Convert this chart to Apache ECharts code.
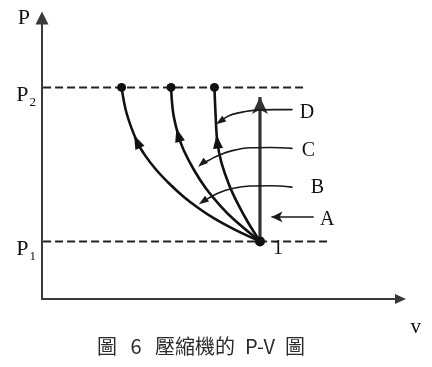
<!DOCTYPE html>
<html><head><meta charset="utf-8">
<script src="https://cdn.jsdelivr.net/npm/echarts@6/dist/echarts.min.js"></script>
<style>html,body{margin:0;padding:0;background:#fff}#c{width:432px;height:367px}</style>
</head><body><div id="c"></div>
<script>
// ---- data (v and p in arbitrary chart units) ----
const P1 = 2.05;
const P2 = 7.53;
const yTickValues = [P1, P2];
const yTickSubs = ['1', '2'];
const xAxisName = 'v';
const yAxisName = 'P';
const captionParts = ['圖', '6', '壓縮機的', 'P-V', '圖'];

const state1 = [6.08, 2.05];
const state1Label = '1';

// compression paths from state 1 up to P2 (listed from the P2 end down to state 1)
const path1V = [2.22, 2.36, 2.65, 2.87, 3.19, 3.54, 3.95, 4.37, 4.80, 5.39, 6.08];
const path1P = [7.53, 6.61, 5.60, 5.12, 4.59, 4.12, 3.64, 3.23, 2.87, 2.46, 2.05];
const path2V = [3.60, 3.66, 3.80, 3.95, 4.24, 4.57, 5.00, 5.37, 6.08];
const path2P = [7.53, 6.61, 5.84, 5.30, 4.59, 3.94, 3.28, 2.81, 2.05];
const path3V = [4.81, 4.84, 4.89, 5.00, 5.22, 5.45, 5.74, 6.08];
const path3P = [7.53, 6.61, 5.60, 4.88, 4.06, 3.42, 2.74, 2.05];
// vertical (constant v) path
const pathVertV = [6.08, 6.08];
const pathVertP = [2.05, 7.19];

// pointer lines of the labels A-D (listed from the label end to the arrow tip)
const labels = ['A', 'B', 'C', 'D'];
const ptrAV = [7.57, 6.40];
const ptrAP = [2.92, 2.92];
const ptrBV = [6.98, 6.37, 5.81, 5.31, 4.92, 4.64, 4.49];
const ptrBP = [3.98, 4.03, 4.02, 3.93, 3.77, 3.58, 3.47];
const ptrCV = [6.98, 6.37, 5.81, 5.31, 4.92, 4.64, 4.46];
const ptrCP = [5.36, 5.39, 5.38, 5.28, 5.11, 4.93, 4.82];
const ptrDV = [6.98, 6.51, 6.09, 5.67, 5.31, 5.06, 4.97];
const ptrDP = [6.74, 6.74, 6.73, 6.67, 6.57, 6.41, 6.32];

// dashed pressure levels: [start v, end v]
const p1LineV = [0.03, 7.99];
const p2LineV = [0.03, 7.37];

// ---- build ----
const SERIF = 'Liberation Serif';
function pts(v, p) { return v.map((x, i) => [x, p[i]]); }

function pathSeries(v, p, arrowIdx, rot) {
  const data = pts(v, p).map((d, i) => {
    if (i === 0) return { value: d, symbol: 'circle', symbolSize: 9 };
    if (i === arrowIdx) return { value: d, symbol: 'triangle', symbolSize: [10, 14], symbolRotate: rot };
    return { value: d, symbol: 'none' };
  });
  return {
    type: 'line', data, smooth: 0.35, symbol: 'none', showSymbol: true,
    lineStyle: { color: '#111', width: 2.6 },
    itemStyle: { color: '#111', borderWidth: 0 }, z: 3, silent: true
  };
}

function pointerSeries(v, p, label, dist, off, rot, arrowSym, arrowSize) {
  const n = v.length;
  const data = pts(v, p).map((d, i) => {
    if (i === 0) return {
      value: d, symbol: 'circle', symbolSize: 1,
      label: {
        show: true, formatter: label, position: 'right', distance: dist, offset: [0, off],
        fontFamily: SERIF, fontSize: 20, color: '#111'
      }
    };
    if (i === n - 1) return { value: d, symbol: arrowSym, symbolSize: arrowSize, symbolRotate: rot };
    return { value: d, symbol: 'none' };
  });
  return {
    type: 'line', data, smooth: 0.4, symbol: 'none', showSymbol: true,
    lineStyle: { color: '#1a1a1a', width: 1.6 },
    itemStyle: { color: '#1a1a1a', borderWidth: 0 }, z: 4, silent: true
  };
}

function dashSeries(v, level) {
  return {
    type: 'line', data: v.map(x => [x, level]), symbol: 'none',
    lineStyle: { color: '#222', width: 2, type: [8, 4] }, z: 2, silent: true
  };
}

const capStyle = (w) => ({ width: w, align: 'center', fontSize: 20, fontWeight: 'normal', fontFamily: 'Noto Sans CJK TC', color: '#2a2a2a' });

const chart = echarts.init(document.getElementById('c'), null, { renderer: 'canvas' });
chart.setOption({
  animation: false,
  backgroundColor: '#fff',
  title: {
    text: '{a|' + captionParts[0] + '}{b|' + captionParts[1] + '}{c|' + captionParts[2] + '}{d|' + captionParts[3] + '}{e|' + captionParts[4] + '}',
    left: 97, top: 336, padding: 0,
    textStyle: {
      fontWeight: 'normal',
      rich: { a: capStyle(20), b: capStyle(38), c: capStyle(80), d: capStyle(50), e: capStyle(20) }
    }
  },
  grid: { left: 42, top: 18, right: 31.5, bottom: 68, containLabel: false },
  xAxis: {
    type: 'value', min: 0, max: 10,
    name: '{v|' + xAxisName + '}', nameLocation: 'end', nameGap: 10,
    nameTextStyle: {
      align: 'left', verticalAlign: 'top',
      rich: { v: { fontFamily: SERIF, fontSize: 21, color: '#111', padding: [18, 0, 0, 0] } }
    },
    axisLine: { show: true, onZero: false, symbol: ['none', 'triangle'], symbolSize: [10, 11], lineStyle: { color: '#3a3a3a', width: 2 } },
    axisTick: { show: false }, axisLabel: { show: false }, splitLine: { show: false }
  },
  yAxis: {
    type: 'value', min: 0, max: 10,
    name: yAxisName, nameLocation: 'end', nameGap: 0,
    nameTextStyle: { fontFamily: SERIF, fontSize: 22, color: '#111', align: 'right', verticalAlign: 'middle', padding: [0, 12, 0, 0] },
    axisLine: { show: true, onZero: false, symbol: ['none', 'triangle'], symbolSize: [13, 13], lineStyle: { color: '#3a3a3a', width: 2 } },
    axisTick: { show: false }, splitLine: { show: false },
    axisLabel: {
      show: true, customValues: yTickValues, margin: 6, padding: [18, 0, 0, 0],
      formatter: (val) => '{p|P}{s|' + yTickSubs[yTickValues.indexOf(val)] + '}',
      rich: {
        p: { fontFamily: SERIF, fontSize: 22, color: '#111', verticalAlign: 'bottom', padding: [0, 0, 3, 0] },
        s: { fontFamily: SERIF, fontSize: 13, color: '#111', verticalAlign: 'bottom', padding: [0, 0, 0, 1] }
      }
    }
  },
  series: [
    dashSeries(p2LineV, P2),
    dashSeries(p1LineV, P1),
    pathSeries(path1V, path1P, 2, 25),
    pathSeries(path2V, path2P, 2, 15),
    pathSeries(path3V, path3P, 2, 6),
    {
      type: 'line', silent: true, z: 3,
      data: pts(pathVertV, pathVertP).map((d, i) => i === 1
        ? { value: d, symbol: 'arrow', symbolSize: [12, 17] }
        : { value: d, symbol: 'none' }),
      symbol: 'none', showSymbol: true,
      lineStyle: { color: '#333', width: 3.2 },
      itemStyle: { color: '#333', borderWidth: 0 }
    },
    pointerSeries(ptrAV, ptrAP, labels[0], 6, 3, 90, 'arrow', [8, 11]),
    pointerSeries(ptrBV, ptrBP, labels[1], 18, 1, 125, 'triangle', [7, 10]),
    pointerSeries(ptrCV, ptrCP, labels[2], 9, 2, 130, 'triangle', [7, 10]),
    pointerSeries(ptrDV, ptrDP, labels[3], 7, 3, 125, 'triangle', [7, 10]),
    {
      type: 'scatter', silent: true, z: 6,
      data: [state1], symbol: 'circle', symbolSize: 10,
      itemStyle: { color: '#111', opacity: 1 },
      label: { show: true, formatter: state1Label, position: 'right', distance: 8, offset: [0, 7], fontFamily: SERIF, fontSize: 20, color: '#111' }
    }
  ]
});
</script>
</body></html>
